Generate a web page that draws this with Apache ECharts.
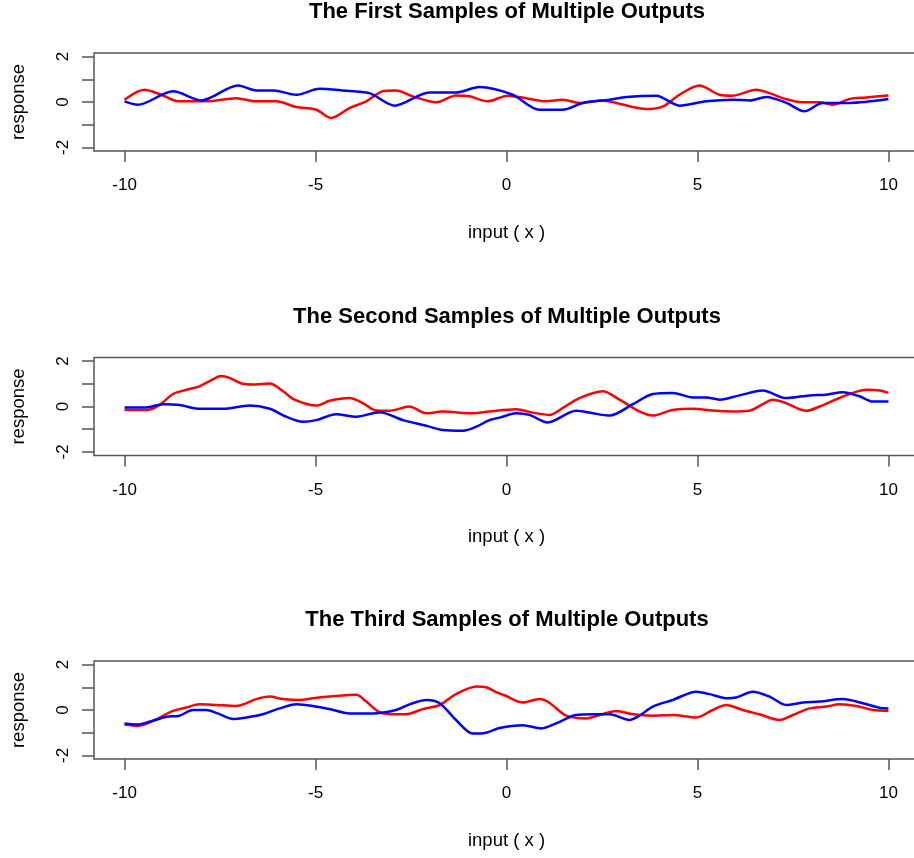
<!DOCTYPE html>
<html>
<head>
<meta charset="utf-8">
<title>Samples of Multiple Outputs</title>
<script src="https://cdn.jsdelivr.net/npm/echarts@6/dist/echarts.min.js"></script>
<style>
    html, body { margin: 0; padding: 0; background: #fff; }
    #container { width: 914px; height: 858px; }
</style>
</head>
<body>
<div id="container"></div>
<script type="text/javascript">
    // panel titles
    var titles = ['The First Samples of Multiple Outputs',
        'The Second Samples of Multiple Outputs',
        'The Third Samples of Multiple Outputs'];
    var xTicks = [-10, -5, 0, 5, 10];
    var yTicks = [-2, -1, 0, 1, 2];
    var yLabels = [-2, 0, 2];

    // first sample
    var red1X = [-10, -9.48, -9.04, -8.6, -7.86, -7.08, -6.55, -6.03, -5.5, -4.98, -4.59, -4.11, -3.67, -3.24, -2.89, -2.45, -1.84, -1.32, -0.97, -0.49, 0.03, 0.51, 1.04, 1.47, 1.91, 2.52, 2.87, 3.66, 4.1, 4.53, 5.05, 5.58, 5.93, 6.54, 6.89, 7.23, 7.76, 8.2, 8.55, 8.98, 9.42, 10];
    var red1Y = [0.1, 0.54, 0.32, 0.03, 0.03, 0.17, 0.03, 0.03, -0.22, -0.34, -0.7, -0.27, 0.03, 0.47, 0.51, 0.25, -0.01, 0.29, 0.25, 0.03, 0.28, 0.17, 0.03, 0.1, -0.04, 0.07, -0.04, -0.31, -0.19, 0.32, 0.73, 0.32, 0.28, 0.54, 0.39, 0.17, -0.01, -0.01, -0.12, 0.13, 0.2, 0.29];
    var blue1X = [-10, -9.65, -8.73, -7.99, -7.03, -6.55, -6.1, -5.5, -4.9, -4.29, -3.59, -2.93, -2.02, -1.32, -0.71, 0.16, 0.86, 1.47, 2.0, 2.7, 3.14, 3.92, 4.53, 5.23, 5.93, 6.37, 6.8, 7.33, 7.8, 8.28, 8.98, 10];
    var blue1Y = [0.03, -0.12, 0.47, 0.07, 0.73, 0.51, 0.51, 0.32, 0.58, 0.51, 0.39, -0.16, 0.42, 0.42, 0.66, 0.32, -0.34, -0.34, -0.04, 0.1, 0.22, 0.28, -0.16, 0.03, 0.1, 0.07, 0.22, -0.04, -0.41, -0.04, -0.04, 0.13];

    // second sample
    var red2X = [-10, -9.4, -9.08, -8.73, -8.38, -8.04, -7.77, -7.47, -7.25, -6.9, -6.64, -6.2, -5.85, -5.55, -4.98, -4.63, -4.11, -3.76, -3.41, -3.06, -2.54, -2.1, -1.67, -0.88, -0.45, 0.25, 0.69, 1.13, 1.47, 1.91, 2.52, 2.96, 3.48, 3.83, 4.35, 4.88, 5.49, 5.93, 6.36, 6.71, 6.97, 7.32, 7.85, 8.2, 8.54, 9.07, 9.42, 9.77, 10];
    var red2Y = [-0.15, -0.15, 0.07, 0.55, 0.74, 0.89, 1.12, 1.34, 1.26, 1.0, 0.97, 1.01, 0.67, 0.3, 0.04, 0.25, 0.37, 0.15, -0.18, -0.19, 0, -0.3, -0.22, -0.3, -0.22, -0.12, -0.27, -0.37, -0.07, 0.37, 0.67, 0.3, -0.22, -0.4, -0.15, -0.1, -0.19, -0.22, -0.19, 0.1, 0.3, 0.15, -0.19, 0, 0.25, 0.6, 0.74, 0.71, 0.6];
    var blue2X = [-10, -9.43, -9.0, -8.56, -8.04, -7.43, -6.73, -6.2, -5.77, -5.33, -4.98, -4.46, -3.93, -3.32, -2.71, -2.1, -1.67, -1.14, -0.79, -0.45, -0.18, 0.25, 0.6, 1.08, 1.82, 2.26, 2.7, 3.31, 3.83, 4.35, 4.88, 5.23, 5.58, 6.1, 6.71, 7.32, 7.93, 8.37, 8.8, 9.24, 9.59, 10];
    var blue2Y = [-0.04, -0.04, 0.1, 0.07, -0.1, -0.1, 0.04, -0.1, -0.45, -0.67, -0.6, -0.34, -0.45, -0.25, -0.6, -0.85, -1.04, -1.07, -0.89, -0.6, -0.49, -0.3, -0.37, -0.7, -0.19, -0.3, -0.4, 0.1, 0.55, 0.6, 0.4, 0.4, 0.3, 0.49, 0.7, 0.37, 0.49, 0.52, 0.63, 0.45, 0.22, 0.22];

    // third sample
    var red3X = [-10, -9.65, -9.2, -8.78, -8.38, -8.04, -7.6, -7.08, -6.55, -6.2, -5.85, -5.42, -5.07, -4.63, -3.93, -3.67, -3.32, -2.89, -2.63, -2.19, -1.75, -1.32, -0.79, -0.53, -0.27, -0.05, 0.43, 0.87, 1.13, 1.56, 2.09, 2.44, 2.87, 3.31, 3.83, 4.35, 4.97, 5.4, 5.75, 6.19, 6.62, 7.15, 7.5, 7.94, 8.37, 8.72, 9.16, 9.59, 10];
    var red3Y = [-0.64, -0.7, -0.44, -0.07, 0.11, 0.25, 0.22, 0.18, 0.48, 0.59, 0.48, 0.44, 0.52, 0.59, 0.67, 0.37, -0.1, -0.19, -0.19, 0.04, 0.22, 0.7, 1.04, 1.0, 0.79, 0.65, 0.33, 0.48, 0.31, -0.25, -0.37, -0.22, -0.04, -0.19, -0.25, -0.22, -0.33, 0, 0.22, 0, -0.19, -0.44, -0.22, 0.07, 0.15, 0.25, 0.18, 0, -0.04];
    var blue3X = [-10, -9.65, -9.35, -8.9, -8.56, -8.21, -7.86, -7.56, -7.16, -6.81, -6.38, -5.94, -5.5, -5.07, -4.63, -4.11, -3.5, -2.89, -2.54, -2.1, -1.75, -1.32, -0.88, -0.53, -0.18, 0.43, 0.91, 1.3, 1.82, 2.26, 2.7, 3.22, 3.48, 3.83, 4.35, 4.97, 5.32, 5.75, 6.01, 6.45, 6.89, 7.32, 7.76, 8.2, 8.8, 9.33, 9.76, 10];
    var blue3Y = [-0.59, -0.64, -0.52, -0.3, -0.25, 0, 0, -0.15, -0.4, -0.33, -0.19, 0.07, 0.25, 0.18, 0.04, -0.15, -0.15, 0, 0.25, 0.44, 0.3, -0.44, -1.04, -1.0, -0.79, -0.67, -0.81, -0.59, -0.22, -0.19, -0.19, -0.44, -0.25, 0.15, 0.44, 0.81, 0.7, 0.52, 0.55, 0.81, 0.59, 0.22, 0.33, 0.37, 0.48, 0.3, 0.1, 0.07];

    var samples = [
        {red: [red1X, red1Y], blue: [blue1X, blue1Y]},
        {red: [red2X, red2Y], blue: [blue2X, blue2Y]},
        {red: [red3X, red3Y], blue: [blue3X, blue3Y]}
    ];

    var font = 'Liberation Sans, Arial, Helvetica, sans-serif';
    var axisColor = '#555';
    var gridTops = [53, 357.5, 661];

    function pairs(xs, ys) {
        var out = [];
        for (var i = 0; i < xs.length; i++) {
            out.push([xs[i], ys[i]]);
        }
        return out;
    }

    var dom = document.getElementById('container');
    var myChart = echarts.init(dom, null, {renderer: 'canvas'});

    var option = {
        backgroundColor: '#fff',
        animation: false,
        title: [],
        grid: [],
        xAxis: [],
        yAxis: [],
        series: []
    };

    for (var k = 0; k < 3; k++) {
        option.title.push({
            text: titles[k],
            left: 507,
            top: gridTops[k] - 52,
            padding: 0,
            textAlign: 'center',
            textStyle: {fontFamily: font, fontSize: 22, fontWeight: 'bold', color: '#000'}
        });
        // box round the plot area, wider than the page on the right like the reference
        option.grid.push({
            left: 94,
            top: gridTops[k],
            width: 825,
            height: 98,
            containLabel: false,
            outerBoundsMode: 'none',
            show: true,
            borderColor: axisColor,
            borderWidth: 1.5,
            backgroundColor: 'transparent'
        });
        option.xAxis.push({
            gridIndex: k,
            type: 'value',
            min: -10.8,
            max: 10.8,
            name: 'input ( x )',
            nameLocation: 'middle',
            nameGap: 72,
            nameTextStyle: {fontFamily: font, fontSize: 18.5, color: '#000'},
            splitLine: {show: false},
            axisLine: {show: false, onZero: false},
            axisTick: {show: true, inside: false, length: 11, customValues: xTicks,
                lineStyle: {color: axisColor, width: 1.5}},
            axisLabel: {customValues: xTicks, margin: 26, fontFamily: font, fontSize: 17, color: '#000'}
        });
        option.yAxis.push({
            gridIndex: k,
            type: 'value',
            min: -2.16,
            max: 2.16,
            name: 'response',
            nameLocation: 'middle',
            nameGap: 66,
            nameRotate: 90,
            nameTextStyle: {fontFamily: font, fontSize: 18.5, color: '#000'},
            splitLine: {show: false},
            axisLine: {show: false, onZero: false},
            axisTick: {show: true, inside: false, length: 12, customValues: yTicks,
                lineStyle: {color: axisColor, width: 1.5}},
            axisLabel: {customValues: yLabels, rotate: 90, margin: 22, fontFamily: font, fontSize: 17, color: '#000'}
        });
        var s = samples[k];
        option.series.push({
            type: 'line',
            xAxisIndex: k,
            yAxisIndex: k,
            data: pairs(s.red[0], s.red[1]),
            smooth: 0.3,
            showSymbol: false,
            lineStyle: {color: '#ff0000', width: 2.5}
        });
        option.series.push({
            type: 'line',
            xAxisIndex: k,
            yAxisIndex: k,
            data: pairs(s.blue[0], s.blue[1]),
            smooth: 0.3,
            showSymbol: false,
            lineStyle: {color: '#0000ff', width: 2.5}
        });
    }

    myChart.setOption(option);
</script>
</body>
</html>
